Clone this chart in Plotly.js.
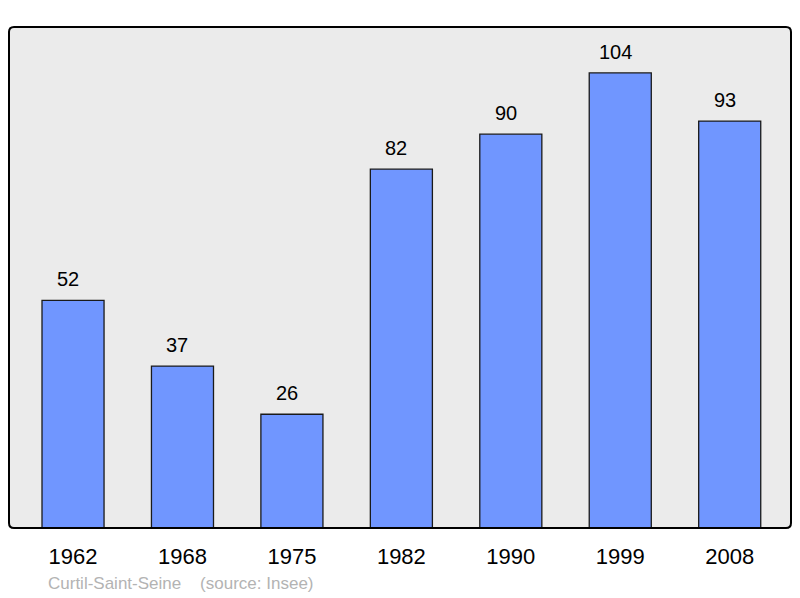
<!DOCTYPE html>
<html><head><meta charset="utf-8">
<script src="https://cdn.plot.ly/plotly-3.0.1.min.js"></script>
<style>body{margin:0;background:#fff}#c{width:800px;height:598px}</style>
</head><body><div id="c"></div>
<script>
const years = ["1962","1968","1975","1982","1990","1999","2008"];
const population = [52, 37, 26, 82, 90, 104, 93];
const place = "Curtil-Saint-Seine";
const source = "(source: Insee)";

const xs = years.map((_, i) => i);
const trace = {
  type: "bar", x: xs, y: population, width: 0.567,
  marker: {color: "#7096ff", line: {color: "#1a1a1a", width: 1.3}},
  hoverinfo: "skip"
};
const ann = population.map((v, i) => ({
  x: i, y: v, xref: "x", yref: "y", text: String(v), showarrow: false,
  yanchor: "bottom", yshift: 8, xshift: -5,
  font: {family: "Liberation Sans, Arial, sans-serif", size: 20, color: "#000"}
}));
ann.push({
  xref: "paper", yref: "paper", x: 0.047, y: -0.11, xanchor: "left", yanchor: "middle",
  text: place + "    " + source, showarrow: false,
  font: {family: "Liberation Sans, Arial, sans-serif", size: 17, color: "#b3b3b3"}
});
const rx = 5/782, ry = 5/501;
const framePath = `M ${rx},0 L ${1-rx},0 Q 1,0 1,${ry} L 1,${1-ry} Q 1,1 ${1-rx},1 L ${rx},1 Q 0,1 0,${1-ry} L 0,${ry} Q 0,0 ${rx},0 Z`;
const layout = {
  width: 800, height: 598,
  margin: {l: 9, r: 9, t: 27, b: 70},
  paper_bgcolor: "#fff", plot_bgcolor: "#ebebeb",
  showlegend: false, bargap: 0,
  xaxis: {range: [-0.585, 6.56], tickvals: xs, ticktext: years, showgrid: false, zeroline: false,
    ticks: "outside", ticklen: 9, tickcolor: "rgba(0,0,0,0)",
    tickfont: {family: "Liberation Sans, Arial, sans-serif", size: 22, color: "#000"}, fixedrange: true},
  yaxis: {range: [0, 114.5], showgrid: false, zeroline: false, showticklabels: false, fixedrange: true},
  annotations: ann,
  shapes: [{type: "path", xref: "paper", yref: "paper", path: framePath, line: {color: "#000", width: 2}, layer: "above"}]
};
Plotly.newPlot("c", [trace], layout, {displayModeBar: false, staticPlot: true});
</script></body></html>
